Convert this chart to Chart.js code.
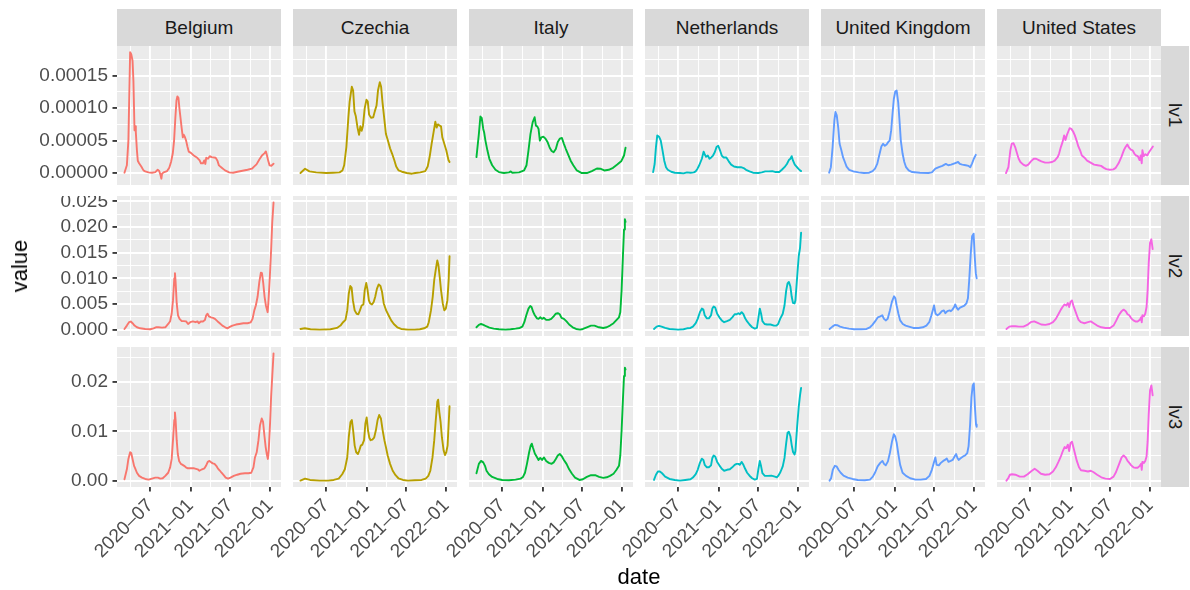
<!DOCTYPE html>
<html>
<head>
<meta charset="utf-8">
<script src="https://cdn.jsdelivr.net/npm/chart.js@4.4.1/dist/chart.umd.min.js"></script>
<style>
  html, body { margin: 0; padding: 0; background: #FFFFFF; }
  body { position: relative; width: 1190px; height: 590px; overflow: hidden;
         font-family: "Liberation Sans", Arial, sans-serif; }
  canvas { position: absolute; }
  .strip { position: absolute; background: #D9D9D9; color: #1A1A1A; font-size: 19px;
           display: flex; align-items: center; justify-content: center; white-space: nowrap; }
  .strip.right { writing-mode: vertical-rl; }
  .title { position: absolute; color: #000000; font-size: 22px; white-space: nowrap;
           transform: translate(-50%, -50%); line-height: 1; }
</style>
</head>
<body>
<script>
// ---- facets ----
const countries = ['Belgium', 'Czechia', 'Italy', 'Netherlands', 'United Kingdom', 'United States'];
const levels = ['lv1', 'lv2', 'lv3'];
const palette = ['#F8766D', '#B79F00', '#00BA38', '#00BFC4', '#619CFF', '#F564E3'];

// ---- axis breaks ----
const xMajorDates = ['2020-07-01', '2021-01-01', '2021-07-01', '2022-01-01'];
const xTickLabels = ['2020–07', '2021–01', '2021–07', '2022–01'];
const xMinorDates = ['2020-04-01', '2020-10-01', '2021-04-01', '2021-10-01'];

const yMajor1 = [0, 0.00005, 0.0001, 0.00015];
const yLabels1 = ['0.00000', '0.00005', '0.00010', '0.00015'];
const yMinor1 = [0.000025, 0.000075, 0.000125, 0.000175];
const yMajor2 = [0, 0.005, 0.01, 0.015, 0.02, 0.025];
const yLabels2 = ['0.000', '0.005', '0.010', '0.015', '0.020', '0.025'];
const yMinor2 = [0.0025, 0.0075, 0.0125, 0.0175, 0.0225];
const yMajor3 = [0, 0.01, 0.02];
const yLabels3 = ['0.00', '0.01', '0.02'];
const yMinor3 = [0.005, 0.015, 0.025];

// ---- series: [date, value] ----
const belgiumLv1 = [['2020-03-05',5e-7],['2020-03-16',1.2e-5],['2020-03-23',5.0e-5],['2020-03-31',1.86e-4],['2020-04-05',1.83e-4],['2020-04-11',1.73e-4],['2020-04-15',1.42e-4],['2020-04-20',6.6e-5],['2020-04-23',7.2e-5],['2020-04-26',6.3e-5],['2020-05-01',3.5e-5],['2020-05-05',1.9e-5],['2020-05-11',1.5e-5],['2020-05-21',1.0e-5],['2020-05-31',4.1e-6],['2020-06-08',2.6e-6],['2020-06-23',1.0e-6],['2020-07-09',5e-7],['2020-07-24',1.5e-6],['2020-08-04',5.1e-6],['2020-08-11',3.1e-6],['2020-08-16',-2.0e-6],['2020-08-21',-8.7e-6],['2020-08-24',-1.0e-6],['2020-08-31',1.0e-6],['2020-09-16',3.1e-6],['2020-09-26',8.2e-6],['2020-10-04',1.7e-5],['2020-10-12',3.0e-5],['2020-10-18',5.0e-5],['2020-10-24',8.6e-5],['2020-10-29',1.12e-4],['2020-11-02',1.18e-4],['2020-11-07',1.16e-4],['2020-11-11',1.01e-4],['2020-11-16',8.6e-5],['2020-11-21',7.1e-5],['2020-11-27',5.5e-5],['2020-12-01',5.9e-5],['2020-12-06',5.6e-5],['2020-12-12',5.0e-5],['2020-12-18',4.1e-5],['2020-12-24',3.3e-5],['2021-01-03',3.1e-5],['2021-01-16',2.7e-5],['2021-02-01',2.35e-5],['2021-02-12',1.94e-5],['2021-02-18',1.5e-5],['2021-02-27',1.5e-5],['2021-03-05',1.94e-5],['2021-03-10',1.4e-5],['2021-03-14',2.35e-5],['2021-03-22',2.2e-5],['2021-03-30',2.6e-5],['2021-04-08',2.46e-5],['2021-04-26',2.35e-5],['2021-05-04',1.94e-5],['2021-05-11',1.18e-5],['2021-05-24',8.2e-6],['2021-06-08',4.1e-6],['2021-06-27',1.0e-6],['2021-07-15',5e-7],['2021-08-04',2.0e-6],['2021-08-27',3.6e-6],['2021-09-19',5.1e-6],['2021-10-09',6.7e-6],['2021-10-20',1.02e-5],['2021-10-30',1.33e-5],['2021-11-12',2.1e-5],['2021-11-24',2.71e-5],['2021-12-06',3.07e-5],['2021-12-12',3.33e-5],['2021-12-17',2.71e-5],['2021-12-23',1.84e-5],['2021-12-29',1.18e-5],['2022-01-06',1.13e-5],['2022-01-16',1.43e-5]];
const czechiaLv1 = [['2020-03-05',0],['2020-03-26',6.7e-6],['2020-04-15',2.5e-6],['2020-05-16',1.0e-6],['2020-07-01',0],['2020-08-01',5e-7],['2020-08-31',1.0e-6],['2020-09-13',4e-6],['2020-09-21',1.2e-5],['2020-10-01',4.0e-5],['2020-10-10',8.5e-5],['2020-10-16',1.1e-4],['2020-10-26',1.33e-4],['2020-11-01',1.27e-4],['2020-11-07',9.5e-5],['2020-11-13',8.8e-5],['2020-11-21',7.0e-5],['2020-11-28',5.9e-5],['2020-12-04',7.2e-5],['2020-12-10',6.5e-5],['2020-12-16',7.3e-5],['2020-12-24',1.0e-4],['2021-01-01',1.13e-4],['2021-01-07',1.10e-4],['2021-01-13',9.0e-5],['2021-01-22',8.5e-5],['2021-02-01',8.6e-5],['2021-02-08',9.5e-5],['2021-02-16',1.04e-4],['2021-02-23',1.28e-4],['2021-03-03',1.40e-4],['2021-03-09',1.33e-4],['2021-03-15',1.10e-4],['2021-03-23',8.5e-5],['2021-03-31',6.0e-5],['2021-04-09',5.0e-5],['2021-04-19',3.8e-5],['2021-04-28',3.0e-5],['2021-05-08',2.0e-5],['2021-05-17',1.0e-5],['2021-05-28',4e-6],['2021-06-12',2e-6],['2021-07-05',0],['2021-07-28',-1e-6],['2021-08-12',0],['2021-09-04',1.0e-6],['2021-09-27',3e-6],['2021-10-08',1.0e-5],['2021-10-17',2.5e-5],['2021-10-26',4.5e-5],['2021-11-04',6.3e-5],['2021-11-12',7.9e-5],['2021-11-18',7.0e-5],['2021-11-24',7.5e-5],['2021-12-02',7.3e-5],['2021-12-08',7.2e-5],['2021-12-14',5.5e-5],['2021-12-23',4.5e-5],['2022-01-01',3.5e-5],['2022-01-11',2.0e-5],['2022-01-16',1.7e-5]];
const italyLv1 = [['2020-03-05',2.46e-5],['2020-03-16',6.0e-5],['2020-03-23',8.7e-5],['2020-03-29',8.5e-5],['2020-04-05',6.8e-5],['2020-04-09',6.3e-5],['2020-04-15',5.0e-5],['2020-04-24',3.5e-5],['2020-05-03',2.2e-5],['2020-05-16',1.2e-5],['2020-05-31',5e-6],['2020-06-16',1.5e-6],['2020-07-09',0],['2020-08-01',1e-6],['2020-08-09',2.5e-6],['2020-08-16',5e-7],['2020-09-16',1e-6],['2020-10-09',4e-6],['2020-10-20',1.2e-5],['2020-10-29',3.5e-5],['2020-11-07',6.0e-5],['2020-11-17',7.8e-5],['2020-11-26',8.6e-5],['2020-12-02',7.3e-5],['2020-12-08',7.2e-5],['2020-12-14',6.8e-5],['2020-12-20',5.0e-5],['2020-12-27',5.5e-5],['2021-01-05',5.6e-5],['2021-01-15',5.3e-5],['2021-01-24',4.8e-5],['2021-02-03',3.9e-5],['2021-02-12',3.4e-5],['2021-02-21',3.2e-5],['2021-03-03',3.7e-5],['2021-03-12',4.8e-5],['2021-03-21',5.3e-5],['2021-03-31',5.4e-5],['2021-04-09',4.5e-5],['2021-04-18',3.7e-5],['2021-04-29',2.8e-5],['2021-05-10',1.9e-5],['2021-05-22',1.2e-5],['2021-06-07',4e-6],['2021-06-30',0],['2021-07-23',0],['2021-08-15',3e-6],['2021-09-07',7e-6],['2021-09-22',6.7e-6],['2021-10-11',4e-6],['2021-10-31',5e-6],['2021-11-20',8e-6],['2021-12-09',1.3e-5],['2021-12-27',1.8e-5],['2022-01-09',2.7e-5],['2022-01-16',3.9e-5]];
const netherlandsLv1 = [['2020-03-08',1.5e-6],['2020-03-15',1.4e-5],['2020-03-21',4.0e-5],['2020-03-27',5.8e-5],['2020-04-04',5.6e-5],['2020-04-12',5.0e-5],['2020-04-20',3.5e-5],['2020-04-28',1.9e-5],['2020-05-06',9e-6],['2020-05-14',5e-6],['2020-05-30',2e-6],['2020-06-15',5e-7],['2020-07-09',0],['2020-07-25',-5e-7],['2020-08-10',1e-6],['2020-08-26',5e-7],['2020-09-10',1e-6],['2020-09-19',2.6e-6],['2020-09-27',6.7e-6],['2020-10-05',1.2e-5],['2020-10-17',2.2e-5],['2020-10-25',3.3e-5],['2020-10-30',2.9e-5],['2020-11-05',2.5e-5],['2020-11-13',2.7e-5],['2020-11-21',2.2e-5],['2020-11-29',2.4e-5],['2020-12-07',2.7e-5],['2020-12-15',3.2e-5],['2020-12-23',4.0e-5],['2020-12-31',4.2e-5],['2021-01-08',3.5e-5],['2021-01-16',2.7e-5],['2021-01-24',2.4e-5],['2021-02-06',2.4e-5],['2021-02-17',1.8e-5],['2021-02-28',1.3e-5],['2021-03-13',1.0e-5],['2021-03-29',9e-6],['2021-04-14',9e-6],['2021-04-26',7.7e-6],['2021-05-07',5e-6],['2021-05-23',2.6e-6],['2021-06-08',5e-7],['2021-07-02',0],['2021-07-18',1e-6],['2021-08-03',2.6e-6],['2021-08-19',2.6e-6],['2021-09-04',3e-6],['2021-09-20',1.5e-6],['2021-10-06',1.5e-6],['2021-10-18',5e-6],['2021-10-30',9e-6],['2021-11-10',1.4e-5],['2021-11-19',2.0e-5],['2021-11-26',2.2e-5],['2021-12-02',2.6e-5],['2021-12-08',1.9e-5],['2021-12-16',1.3e-5],['2021-12-24',1.0e-5],['2022-01-01',6.7e-6],['2022-01-09',4e-6],['2022-01-14',3e-6]];
const unitedKingdomLv1 = [['2020-03-08',5e-7],['2020-03-16',9e-6],['2020-03-24',4.0e-5],['2020-04-01',8.1e-5],['2020-04-06',9.4e-5],['2020-04-12',8.9e-5],['2020-04-19',6.9e-5],['2020-04-25',4.5e-5],['2020-05-03',3.5e-5],['2020-05-11',2.4e-5],['2020-05-19',1.7e-5],['2020-05-27',1.0e-5],['2020-06-08',5e-6],['2020-06-27',2.6e-6],['2020-07-21',1e-6],['2020-08-14',0],['2020-09-07',5e-7],['2020-09-23',3e-6],['2020-10-04',6.7e-6],['2020-10-14',1.4e-5],['2020-10-23',2.7e-5],['2020-11-02',4.1e-5],['2020-11-10',4.5e-5],['2020-11-18',4.2e-5],['2020-11-26',4.4e-5],['2020-12-04',4.8e-5],['2020-12-10',5.0e-5],['2020-12-17',6.6e-5],['2020-12-23',9.1e-5],['2020-12-29',1.14e-4],['2021-01-05',1.26e-4],['2021-01-11',1.27e-4],['2021-01-18',1.09e-4],['2021-01-24',8.1e-5],['2021-01-30',5.0e-5],['2021-02-07',3.0e-5],['2021-02-15',1.7e-5],['2021-02-23',9e-6],['2021-03-07',4e-6],['2021-03-23',1.5e-6],['2021-04-27',5e-7],['2021-06-05',0],['2021-06-21',1e-6],['2021-07-07',6.7e-6],['2021-07-23',9e-6],['2021-08-08',1.1e-5],['2021-08-24',1.4e-5],['2021-09-04',1.2e-5],['2021-09-17',1.3e-5],['2021-10-03',1.5e-5],['2021-10-19',1.7e-5],['2021-10-27',1.4e-5],['2021-11-07',1.3e-5],['2021-11-23',1.2e-5],['2021-12-06',1.1e-5],['2021-12-14',9e-6],['2021-12-22',1.5e-5],['2021-12-30',2.2e-5],['2022-01-08',2.8e-5]];
const unitedStatesLv1 = [['2020-03-12',0],['2020-03-23',9e-6],['2020-04-01',3.5e-5],['2020-04-07',4.5e-5],['2020-04-15',4.6e-5],['2020-04-23',4.0e-5],['2020-05-01',3.1e-5],['2020-05-09',2.2e-5],['2020-05-17',1.7e-5],['2020-05-30',1.3e-5],['2020-06-11',1.1e-5],['2020-06-22',1.3e-5],['2020-07-04',1.8e-5],['2020-07-17',2.2e-5],['2020-07-28',2.2e-5],['2020-08-09',2.0e-5],['2020-08-21',1.8e-5],['2020-09-07',1.6e-5],['2020-09-23',1.6e-5],['2020-10-09',1.7e-5],['2020-10-21',1.9e-5],['2020-11-04',2.5e-5],['2020-11-10',3.0e-5],['2020-11-18',4.0e-5],['2020-11-26',4.8e-5],['2020-12-03',5.8e-5],['2020-12-09',5.1e-5],['2020-12-15',5.8e-5],['2020-12-22',6.4e-5],['2020-12-28',6.9e-5],['2021-01-05',6.8e-5],['2021-01-13',6.4e-5],['2021-01-21',5.8e-5],['2021-01-29',5.0e-5],['2021-02-06',4.1e-5],['2021-02-14',3.5e-5],['2021-02-22',2.7e-5],['2021-03-05',2.4e-5],['2021-03-18',1.9e-5],['2021-04-03',1.6e-5],['2021-04-19',1.3e-5],['2021-05-05',1.2e-5],['2021-05-21',1.1e-5],['2021-06-03',8e-6],['2021-06-14',6e-6],['2021-06-30',5e-6],['2021-07-16',5.6e-6],['2021-07-27',8e-6],['2021-08-09',1.5e-5],['2021-08-22',2.5e-5],['2021-09-02',3.5e-5],['2021-09-10',4.0e-5],['2021-09-18',4.4e-5],['2021-09-26',3.9e-5],['2021-10-04',3.6e-5],['2021-10-12',3.5e-5],['2021-10-20',3.0e-5],['2021-10-28',2.7e-5],['2021-11-05',2.6e-5],['2021-11-13',2.0e-5],['2021-11-18',2.7e-5],['2021-11-23',1.5e-5],['2021-11-26',3.5e-5],['2021-12-02',2.6e-5],['2021-12-10',2.9e-5],['2021-12-18',2.7e-5],['2021-12-26',3.2e-5],['2022-01-03',3.6e-5],['2022-01-13',4.1e-5]];

const belgiumLv2 = [['2020-03-05',1.3e-4],['2020-03-16',7.9e-4],['2020-03-26',1.45e-3],['2020-04-03',1.58e-3],['2020-04-11',1.25e-3],['2020-04-20',7.9e-4],['2020-05-01',4.6e-4],['2020-05-16',2.6e-4],['2020-06-08',1.3e-4],['2020-07-01',7e-5],['2020-07-16',2.6e-4],['2020-07-27',4.6e-4],['2020-08-08',4.6e-4],['2020-08-24',4.0e-4],['2020-09-08',4.6e-4],['2020-09-21',1.1e-3],['2020-09-30',1.65e-3],['2020-10-07',3.1e-3],['2020-10-13',5.7e-3],['2020-10-19',1.0e-2],['2020-10-22',1.1e-2],['2020-10-25',9.3e-3],['2020-10-30',5.1e-3],['2020-11-05',2.8e-3],['2020-11-12',2.1e-3],['2020-11-22',1.65e-3],['2020-11-30',1.65e-3],['2020-12-12',1.6e-3],['2020-12-21',1.1e-3],['2020-12-31',1.45e-3],['2021-01-12',1.6e-3],['2021-01-24',1.45e-3],['2021-02-02',1.6e-3],['2021-02-08',1.25e-3],['2021-02-17',1.6e-3],['2021-02-27',1.6e-3],['2021-03-08',1.9e-3],['2021-03-14',2.8e-3],['2021-03-20',3.1e-3],['2021-03-26',2.6e-3],['2021-04-05',2.4e-3],['2021-04-14',2.3e-3],['2021-04-23',2.1e-3],['2021-05-04',1.65e-3],['2021-05-15',1.25e-3],['2021-05-27',7.9e-4],['2021-06-09',4.6e-4],['2021-06-19',2.6e-4],['2021-06-30',5.3e-4],['2021-07-12',7.9e-4],['2021-07-28',9.9e-4],['2021-08-12',1.1e-3],['2021-08-31',1.25e-3],['2021-09-19',1.25e-3],['2021-10-03',1.4e-3],['2021-10-12',2.1e-3],['2021-10-20',3.75e-3],['2021-10-27',4.7e-3],['2021-11-04',6.4e-3],['2021-11-12',9.3e-3],['2021-11-19',1.11e-2],['2021-11-24',1.1e-2],['2021-11-30',9.0e-3],['2021-12-06',6.4e-3],['2021-12-12',4.7e-3],['2021-12-20',3.4e-3],['2021-12-24',5.7e-3],['2021-12-30',1.03e-2],['2022-01-05',1.56e-2],['2022-01-10',2.09e-2],['2022-01-16',2.48e-2]];
const czechiaLv2 = [['2020-03-05',1.3e-4],['2020-03-25',2.6e-4],['2020-04-20',7e-5],['2020-06-01',0],['2020-07-20',7e-5],['2020-08-19',3.3e-4],['2020-09-04',7.9e-4],['2020-09-16',1.45e-3],['2020-09-27',1.9e-3],['2020-10-05',3.75e-3],['2020-10-12',7.0e-3],['2020-10-19',8.5e-3],['2020-10-25',8.2e-3],['2020-10-31',5.7e-3],['2020-11-08',3.75e-3],['2020-11-17',3.1e-3],['2020-11-25',3.0e-3],['2020-12-02',3.75e-3],['2020-12-10',4.7e-3],['2020-12-18',4.9e-3],['2020-12-24',7.7e-3],['2020-12-31',9.1e-3],['2021-01-06',7.7e-3],['2021-01-12',5.7e-3],['2021-01-18',5.1e-3],['2021-01-26',4.9e-3],['2021-02-03',5.4e-3],['2021-02-10',6.4e-3],['2021-02-18',8.0e-3],['2021-02-26',8.8e-3],['2021-03-06',8.5e-3],['2021-03-13',7.4e-3],['2021-03-21',5.1e-3],['2021-04-01',3.75e-3],['2021-04-12',2.8e-3],['2021-04-24',1.8e-3],['2021-05-06',1.1e-3],['2021-05-22',4.6e-4],['2021-06-09',1.3e-4],['2021-07-10',0],['2021-08-10',0],['2021-09-02',7e-5],['2021-09-22',2.6e-4],['2021-10-06',5.9e-4],['2021-10-13',1.45e-3],['2021-10-23',3.75e-3],['2021-10-31',6.4e-3],['2021-11-07',9.7e-3],['2021-11-15',1.2e-2],['2021-11-21',1.35e-2],['2021-11-26',1.26e-2],['2021-12-02',1.03e-2],['2021-12-08',7.7e-3],['2021-12-16',5.1e-3],['2021-12-23',3.75e-3],['2021-12-30',4.1e-3],['2022-01-06',5.7e-3],['2022-01-12',9.7e-3],['2022-01-16',1.43e-2]];
const italyLv2 = [['2020-03-05',4.6e-4],['2020-03-16',9.2e-4],['2020-03-26',1.1e-3],['2020-04-06',9.2e-4],['2020-04-18',6.6e-4],['2020-05-03',3.9e-4],['2020-05-23',2e-4],['2020-06-16',7e-5],['2020-07-16',0],['2020-08-08',7e-5],['2020-08-31',2e-4],['2020-09-19',3.3e-4],['2020-10-01',5.9e-4],['2020-10-10',1.45e-3],['2020-10-19',2.8e-3],['2020-10-29',4.1e-3],['2020-11-06',4.6e-3],['2020-11-12',4.4e-3],['2020-11-20',3.4e-3],['2020-11-27',2.8e-3],['2020-12-07',2.2e-3],['2020-12-14',2.1e-3],['2020-12-22',2.4e-3],['2020-12-30',2.1e-3],['2021-01-07',2.3e-3],['2021-01-18',1.9e-3],['2021-01-30',1.9e-3],['2021-02-10',2.1e-3],['2021-02-21',2.6e-3],['2021-03-03',3.1e-3],['2021-03-12',3.2e-3],['2021-03-21',3.0e-3],['2021-03-29',2.3e-3],['2021-04-09',2.1e-3],['2021-04-21',1.6e-3],['2021-05-03',1.0e-3],['2021-05-19',4.6e-4],['2021-06-04',1.3e-4],['2021-06-22',0],['2021-07-05',1.3e-4],['2021-07-23',4.6e-4],['2021-08-11',7.9e-4],['2021-08-27',7.9e-4],['2021-09-16',4.6e-4],['2021-10-06',3.3e-4],['2021-10-22',4.6e-4],['2021-11-06',7.9e-4],['2021-11-22',1.25e-3],['2021-12-04',1.8e-3],['2021-12-17',2.4e-3],['2021-12-23',3.4e-3],['2021-12-29',7.7e-3],['2022-01-04',1.43e-2],['2022-01-09',1.95e-2],['2022-01-13',2.15e-2],['2022-01-16',2.1e-2]];
const netherlandsLv2 = [['2020-03-12',1.3e-4],['2020-03-24',5.9e-4],['2020-04-04',7.2e-4],['2020-04-16',5.9e-4],['2020-05-02',3.3e-4],['2020-05-22',1.3e-4],['2020-07-01',0],['2020-07-25',7e-5],['2020-08-10',2.6e-4],['2020-08-26',3.3e-4],['2020-09-06',5.9e-4],['2020-09-19',1.25e-3],['2020-09-28',2.1e-3],['2020-10-08',3.4e-3],['2020-10-17',4.1e-3],['2020-10-24',3.9e-3],['2020-10-30',2.8e-3],['2020-11-09',2.2e-3],['2020-11-18',2.2e-3],['2020-11-28',2.8e-3],['2020-12-04',4.1e-3],['2020-12-10',4.5e-3],['2020-12-17',4.3e-3],['2020-12-26',3.1e-3],['2021-01-05',2.4e-3],['2021-01-16',1.8e-3],['2021-01-27',1.45e-3],['2021-02-09',1.65e-3],['2021-02-22',1.9e-3],['2021-03-05',2.4e-3],['2021-03-16',3.0e-3],['2021-03-25',3.0e-3],['2021-04-02',3.2e-3],['2021-04-09',3.0e-3],['2021-04-17',3.4e-3],['2021-04-25',3.0e-3],['2021-05-03',2.2e-3],['2021-05-12',1.6e-3],['2021-05-23',1.0e-3],['2021-06-04',4.6e-4],['2021-06-16',2e-4],['2021-06-26',3.3e-4],['2021-07-02',2.1e-3],['2021-07-09',4.1e-3],['2021-07-15',3.1e-3],['2021-07-21',1.65e-3],['2021-07-31',1.1e-3],['2021-08-11',1.0e-3],['2021-08-27',1.0e-3],['2021-09-12',7.9e-4],['2021-09-23',7.9e-4],['2021-10-01',1.1e-3],['2021-10-10',2.1e-3],['2021-10-22',3.1e-3],['2021-10-30',4.7e-3],['2021-11-07',7.7e-3],['2021-11-13',9.0e-3],['2021-11-19',9.3e-3],['2021-11-26',8.4e-3],['2021-12-02',6.4e-3],['2021-12-08',5.2e-3],['2021-12-15',5.1e-3],['2021-12-19',5.7e-3],['2021-12-27',1.03e-2],['2022-01-03',1.43e-2],['2022-01-09',1.59e-2],['2022-01-14',1.89e-2]];
const unitedKingdomLv2 = [['2020-03-10',1.3e-4],['2020-03-23',5.9e-4],['2020-04-03',9.2e-4],['2020-04-14',8.6e-4],['2020-04-27',5.9e-4],['2020-05-13',3.9e-4],['2020-06-07',2e-4],['2020-07-01',7e-5],['2020-08-02',7e-5],['2020-08-26',1.3e-4],['2020-09-11',4.6e-4],['2020-09-22',9.2e-4],['2020-10-05',1.65e-3],['2020-10-17',2.4e-3],['2020-10-28',2.6e-3],['2020-11-06',2.8e-3],['2020-11-14',2.1e-3],['2020-11-22',1.8e-3],['2020-12-01',2.1e-3],['2020-12-11',3.75e-3],['2020-12-20',5.4e-3],['2020-12-30',6.5e-3],['2021-01-05',6.1e-3],['2021-01-11',4.7e-3],['2021-01-19',3.1e-3],['2021-01-27',1.8e-3],['2021-02-08',1.1e-3],['2021-02-21',7.9e-4],['2021-03-08',5.9e-4],['2021-03-28',3.3e-4],['2021-04-21',3.3e-4],['2021-05-11',4.6e-4],['2021-05-27',7.9e-4],['2021-06-09',1.45e-3],['2021-06-19',2.8e-3],['2021-06-25',3.75e-3],['2021-07-01',4.7e-3],['2021-07-08',3.1e-3],['2021-07-17',2.8e-3],['2021-07-27',3.1e-3],['2021-08-06',3.6e-3],['2021-08-15',3.75e-3],['2021-08-22',3.2e-3],['2021-08-31',3.6e-3],['2021-09-10',3.75e-3],['2021-09-16',3.6e-3],['2021-09-23',3.9e-3],['2021-10-01',4.4e-3],['2021-10-06',4.9e-3],['2021-10-12',4.3e-3],['2021-10-19',3.9e-3],['2021-10-28',4.3e-3],['2021-11-07',4.5e-3],['2021-11-17',4.7e-3],['2021-11-26',5.1e-3],['2021-12-03',6.1e-3],['2021-12-09',9.7e-3],['2021-12-16',1.49e-2],['2021-12-22',1.82e-2],['2021-12-29',1.87e-2],['2022-01-03',1.43e-2],['2022-01-08',1.1e-2],['2022-01-12',1.0e-2]];
const unitedStatesLv2 = [['2020-03-14',1.3e-4],['2020-03-27',5.9e-4],['2020-04-08',6.6e-4],['2020-04-24',6.6e-4],['2020-05-10',5.9e-4],['2020-05-31',5.9e-4],['2020-06-17',9.2e-4],['2020-07-03',1.45e-3],['2020-07-19',1.6e-3],['2020-08-04',1.3e-3],['2020-08-20',1.0e-3],['2020-09-08',9.2e-4],['2020-09-27',1.1e-3],['2020-10-13',1.45e-3],['2020-10-26',2.1e-3],['2020-11-08',3.1e-3],['2020-11-18',3.9e-3],['2020-11-27',4.5e-3],['2020-12-05',4.9e-3],['2020-12-13',4.7e-3],['2020-12-20',5.2e-3],['2020-12-26',4.4e-3],['2021-01-01',5.4e-3],['2021-01-08',5.7e-3],['2021-01-14',4.7e-3],['2021-01-22',3.75e-3],['2021-01-30',2.8e-3],['2021-02-07',1.9e-3],['2021-02-18',1.45e-3],['2021-03-06',1.25e-3],['2021-03-22',1.45e-3],['2021-04-04',1.6e-3],['2021-04-17',1.25e-3],['2021-05-03',7.9e-4],['2021-05-22',4.6e-4],['2021-06-10',3.3e-4],['2021-07-01',3.3e-4],['2021-07-17',7.9e-4],['2021-07-28',1.65e-3],['2021-08-10',2.8e-3],['2021-08-23',3.6e-3],['2021-09-01',3.9e-3],['2021-09-11',3.6e-3],['2021-09-19',3.0e-3],['2021-09-27',2.8e-3],['2021-10-06',2.2e-3],['2021-10-16',1.8e-3],['2021-10-25',1.6e-3],['2021-11-04',1.6e-3],['2021-11-14',1.9e-3],['2021-11-20',2.4e-3],['2021-11-23',1.45e-3],['2021-11-26',2.8e-3],['2021-12-03',2.6e-3],['2021-12-09',3.1e-3],['2021-12-15',4.4e-3],['2021-12-20',7.7e-3],['2021-12-25',1.3e-2],['2021-12-31',1.69e-2],['2022-01-06',1.76e-2],['2022-01-12',1.57e-2]];

const belgiumLv3 = [['2020-03-05',2.7e-4],['2020-03-16',2.3e-3],['2020-03-23',4.4e-3],['2020-03-31',5.75e-3],['2020-04-05',5.6e-3],['2020-04-11',4.4e-3],['2020-04-18',3.0e-3],['2020-04-23',2.5e-3],['2020-05-01',1.6e-3],['2020-05-11',9.6e-4],['2020-05-24',6.2e-4],['2020-06-08',3.4e-4],['2020-06-23',2e-4],['2020-07-09',4.1e-4],['2020-07-24',6.2e-4],['2020-08-05',6.2e-4],['2020-08-16',4.1e-4],['2020-08-27',4.8e-4],['2020-09-08',9.6e-4],['2020-09-21',1.6e-3],['2020-09-30',2.7e-3],['2020-10-07',4.4e-3],['2020-10-13',8.2e-3],['2020-10-19',1.23e-2],['2020-10-22',1.38e-2],['2020-10-25',1.23e-2],['2020-10-30',8.2e-3],['2020-11-04',5.4e-3],['2020-11-10',4.0e-3],['2020-11-18',3.4e-3],['2020-11-26',3.2e-3],['2020-12-03',3.0e-3],['2020-12-11',2.7e-3],['2020-12-20',2.5e-3],['2021-01-03',2.5e-3],['2021-01-18',2.5e-3],['2021-02-03',2.3e-3],['2021-02-11',2.0e-3],['2021-02-23',2.3e-3],['2021-03-06',2.5e-3],['2021-03-13',3.0e-3],['2021-03-21',3.8e-3],['2021-03-29',4.0e-3],['2021-04-06',3.7e-3],['2021-04-13',3.5e-3],['2021-04-21',3.4e-3],['2021-04-29',3.0e-3],['2021-05-06',2.5e-3],['2021-05-14',2.1e-3],['2021-05-23',1.6e-3],['2021-06-02',1.1e-3],['2021-06-11',6.2e-4],['2021-06-22',4.1e-4],['2021-07-03',6.2e-4],['2021-07-18',9.6e-4],['2021-08-03',1.2e-3],['2021-08-18',1.4e-3],['2021-09-07',1.5e-3],['2021-09-23',1.5e-3],['2021-10-06',1.6e-3],['2021-10-16',2.7e-3],['2021-10-23',4.7e-3],['2021-10-31',5.75e-3],['2021-11-08',8.2e-3],['2021-11-15',1.12e-2],['2021-11-23',1.26e-2],['2021-11-29',1.19e-2],['2021-12-05',9.2e-3],['2021-12-11',6.8e-3],['2021-12-16',5.4e-3],['2021-12-21',4.4e-3],['2021-12-25',6.1e-3],['2021-12-31',1.16e-2],['2022-01-05',1.71e-2],['2022-01-11',2.19e-2],['2022-01-16',2.58e-2]];
const czechiaLv3 = [['2020-03-05',0],['2020-03-26',4.1e-4],['2020-04-18',1.4e-4],['2020-06-01',0],['2020-07-10',0],['2020-08-04',1.4e-4],['2020-08-27',4.1e-4],['2020-09-12',1.3e-3],['2020-09-24',2.3e-3],['2020-10-05',4.7e-3],['2020-10-12',8.8e-3],['2020-10-20',1.19e-2],['2020-10-26',1.23e-2],['2020-11-01',1.02e-2],['2020-11-08',7.1e-3],['2020-11-15',5.75e-3],['2020-11-23',5.4e-3],['2020-11-29',6.1e-3],['2020-12-06',7.1e-3],['2020-12-13',7.3e-3],['2020-12-21',8.2e-3],['2020-12-27',1.16e-2],['2021-01-02',1.28e-2],['2021-01-08',1.02e-2],['2021-01-14',8.7e-3],['2021-01-20',8.2e-3],['2021-01-28',8.3e-3],['2021-02-05',8.7e-3],['2021-02-13',1.02e-2],['2021-02-21',1.23e-2],['2021-02-28',1.33e-2],['2021-03-08',1.26e-2],['2021-03-16',1.02e-2],['2021-03-24',8.2e-3],['2021-03-31',6.8e-3],['2021-04-08',5.1e-3],['2021-04-19',3.4e-3],['2021-05-01',2.0e-3],['2021-05-14',1.1e-3],['2021-05-27',4.8e-4],['2021-06-17',1.4e-4],['2021-07-10',0],['2021-08-10',7e-5],['2021-09-10',1.4e-4],['2021-09-29',4.1e-4],['2021-10-11',9.6e-4],['2021-10-20',2.0e-3],['2021-10-30',4.7e-3],['2021-11-07',8.2e-3],['2021-11-14',1.23e-2],['2021-11-21',1.6e-2],['2021-11-25',1.64e-2],['2021-11-30',1.4e-2],['2021-12-06',1.19e-2],['2021-12-12',8.8e-3],['2021-12-20',6.1e-3],['2021-12-26',5.2e-3],['2022-01-01',5.75e-3],['2022-01-07',7.1e-3],['2022-01-12',1.16e-2],['2022-01-16',1.51e-2]];
const italyLv3 = [['2020-03-05',1.5e-3],['2020-03-16',3.4e-3],['2020-03-26',4.0e-3],['2020-04-05',3.7e-3],['2020-04-13',3.0e-3],['2020-04-20',2.0e-3],['2020-05-01',1.3e-3],['2020-05-16',7.5e-4],['2020-06-08',3.4e-4],['2020-07-01',1.4e-4],['2020-08-01',7e-5],['2020-08-31',2e-4],['2020-09-23',4.1e-4],['2020-10-04',7.5e-4],['2020-10-13',1.6e-3],['2020-10-22',3.4e-3],['2020-11-01',5.75e-3],['2020-11-08',7.1e-3],['2020-11-13',7.5e-3],['2020-11-19',6.6e-3],['2020-11-27',5.5e-3],['2020-12-05',4.9e-3],['2020-12-14',4.2e-3],['2020-12-22',4.6e-3],['2020-12-30',4.2e-3],['2021-01-08',4.7e-3],['2021-01-18',4.0e-3],['2021-01-30',3.6e-3],['2021-02-12',3.4e-3],['2021-02-21',3.7e-3],['2021-03-03',4.4e-3],['2021-03-12',5.1e-3],['2021-03-21',5.4e-3],['2021-03-31',4.9e-3],['2021-04-09',4.2e-3],['2021-04-21',3.4e-3],['2021-05-03',2.3e-3],['2021-05-16',1.4e-3],['2021-05-30',6.2e-4],['2021-06-19',1.4e-4],['2021-07-05',2.7e-4],['2021-07-23',7.5e-4],['2021-08-11',1.1e-3],['2021-08-30',1.1e-3],['2021-09-17',7.5e-4],['2021-10-06',5.5e-4],['2021-10-22',6.8e-4],['2021-11-06',9.6e-4],['2021-11-22',1.4e-3],['2021-12-04',2.1e-3],['2021-12-17',3.0e-3],['2021-12-23',5.1e-3],['2021-12-29',1.02e-2],['2022-01-04',1.64e-2],['2022-01-09',2.12e-2],['2022-01-13',2.29e-2],['2022-01-16',2.25e-2]];
const netherlandsLv3 = [['2020-03-12',1.4e-4],['2020-03-21',1.2e-3],['2020-03-30',1.85e-3],['2020-04-08',1.85e-3],['2020-04-18',1.5e-3],['2020-05-02',8.2e-4],['2020-05-22',3.4e-4],['2020-06-15',1.4e-4],['2020-07-09',0],['2020-08-02',1.4e-4],['2020-08-26',2.7e-4],['2020-09-06',6.2e-4],['2020-09-19',1.3e-3],['2020-09-28',2.2e-3],['2020-10-08',3.6e-3],['2020-10-17',4.45e-3],['2020-10-24',4.2e-3],['2020-10-30',3.2e-3],['2020-11-09',2.7e-3],['2020-11-18',2.7e-3],['2020-11-28',3.1e-3],['2020-12-04',4.6e-3],['2020-12-10',5.1e-3],['2020-12-17',4.9e-3],['2020-12-26',3.8e-3],['2021-01-05',3.1e-3],['2021-01-16',2.4e-3],['2021-01-27',2.0e-3],['2021-02-09',2.2e-3],['2021-02-22',2.3e-3],['2021-03-05',2.7e-3],['2021-03-16',3.2e-3],['2021-03-25',3.4e-3],['2021-04-02',3.4e-3],['2021-04-09',3.2e-3],['2021-04-17',3.8e-3],['2021-04-25',3.2e-3],['2021-05-03',2.4e-3],['2021-05-12',1.6e-3],['2021-05-23',1.0e-3],['2021-06-04',4.8e-4],['2021-06-16',2e-4],['2021-06-26',3.4e-4],['2021-07-02',2.2e-3],['2021-07-09',4.0e-3],['2021-07-15',2.9e-3],['2021-07-21',1.5e-3],['2021-07-31',1.0e-3],['2021-08-15',9.6e-4],['2021-08-31',1.0e-3],['2021-09-16',8.2e-4],['2021-09-25',6.8e-4],['2021-10-01',9.6e-4],['2021-10-11',1.7e-3],['2021-10-22',2.9e-3],['2021-10-30',4.6e-3],['2021-11-07',7.7e-3],['2021-11-13',9.7e-3],['2021-11-19',9.9e-3],['2021-11-26',9.0e-3],['2021-12-02',7.2e-3],['2021-12-08',5.8e-3],['2021-12-15',5.3e-3],['2021-12-19',6.0e-3],['2021-12-27',1.11e-2],['2022-01-03',1.49e-2],['2022-01-09',1.73e-2],['2022-01-14',1.88e-2]];
const unitedKingdomLv3 = [['2020-03-10',0],['2020-03-17',4.8e-4],['2020-03-25',2.2e-3],['2020-04-03',3.0e-3],['2020-04-11',2.9e-3],['2020-04-20',2.2e-3],['2020-04-30',1.6e-3],['2020-05-13',1.0e-3],['2020-06-01',6.2e-4],['2020-06-23',3.4e-4],['2020-07-17',1.4e-4],['2020-08-18',7e-5],['2020-09-11',2e-4],['2020-09-24',8.2e-4],['2020-10-05',1.7e-3],['2020-10-16',2.9e-3],['2020-10-28',3.6e-3],['2020-11-07',4.0e-3],['2020-11-14',3.4e-3],['2020-11-22',3.1e-3],['2020-12-02',3.9e-3],['2020-12-11',5.6e-3],['2020-12-21',8.0e-3],['2020-12-29',9.4e-3],['2021-01-04',9.0e-3],['2021-01-11',7.7e-3],['2021-01-19',5.3e-3],['2021-01-27',3.2e-3],['2021-02-07',1.6e-3],['2021-02-23',9.6e-4],['2021-03-14',4.8e-4],['2021-04-07',2e-4],['2021-05-01',2e-4],['2021-05-25',3.4e-4],['2021-06-10',9.6e-4],['2021-06-21',2.2e-3],['2021-07-01',3.8e-3],['2021-07-07',4.7e-3],['2021-07-13',3.2e-3],['2021-07-23',3.1e-3],['2021-08-01',3.6e-3],['2021-08-12',4.0e-3],['2021-08-20',4.2e-3],['2021-08-28',4.5e-3],['2021-09-05',3.8e-3],['2021-09-15',4.0e-3],['2021-09-24',4.2e-3],['2021-10-03',4.9e-3],['2021-10-10',5.4e-3],['2021-10-16',4.6e-3],['2021-10-22',4.2e-3],['2021-11-01',4.6e-3],['2021-11-11',4.9e-3],['2021-11-20',5.1e-3],['2021-11-30',5.6e-3],['2021-12-06',7.0e-3],['2021-12-13',1.14e-2],['2021-12-19',1.69e-2],['2021-12-25',1.93e-2],['2021-12-30',1.97e-2],['2022-01-04',1.49e-2],['2022-01-09',1.14e-2],['2022-01-12',1.09e-2]];
const unitedStatesLv3 = [['2020-03-14',0],['2020-03-22',4.8e-4],['2020-03-30',1.2e-3],['2020-04-09',1.3e-3],['2020-04-24',1.2e-3],['2020-05-14',8.2e-4],['2020-06-02',8.2e-4],['2020-06-19',1.3e-3],['2020-07-04',1.85e-3],['2020-07-21',2.4e-3],['2020-08-03',2.0e-3],['2020-08-19',1.4e-3],['2020-09-07',1.2e-3],['2020-09-27',1.3e-3],['2020-10-13',1.85e-3],['2020-10-26',2.7e-3],['2020-11-08',3.9e-3],['2020-11-18',4.9e-3],['2020-11-27',6.0e-3],['2020-12-05',6.8e-3],['2020-12-13',6.6e-3],['2020-12-20',7.3e-3],['2020-12-26',6.0e-3],['2021-01-01',7.6e-3],['2021-01-08',7.9e-3],['2021-01-14',6.8e-3],['2021-01-22',5.4e-3],['2021-01-30',4.0e-3],['2021-02-09',2.7e-3],['2021-02-18',2.1e-3],['2021-03-06',2.0e-3],['2021-03-22',1.85e-3],['2021-04-04',2.0e-3],['2021-04-17',1.7e-3],['2021-05-03',1.2e-3],['2021-05-22',6.8e-4],['2021-06-10',4.1e-4],['2021-07-01',3.4e-4],['2021-07-17',8.2e-4],['2021-07-28',1.7e-3],['2021-08-10',3.2e-3],['2021-08-23',4.7e-3],['2021-09-01',5.1e-3],['2021-09-11',4.7e-3],['2021-09-19',4.0e-3],['2021-09-27',3.6e-3],['2021-10-06',3.1e-3],['2021-10-16',2.7e-3],['2021-10-25',2.6e-3],['2021-11-04',2.6e-3],['2021-11-14',3.0e-3],['2021-11-20',3.4e-3],['2021-11-23',2.2e-3],['2021-11-26',3.8e-3],['2021-12-03',3.6e-3],['2021-12-09',4.0e-3],['2021-12-15',4.9e-3],['2021-12-20',8.0e-3],['2021-12-25',1.35e-2],['2021-12-31',1.83e-2],['2022-01-06',1.93e-2],['2022-01-12',1.73e-2]];

// ---- facet grid (rows = level, columns = country) ----
const facetSeries = [
  [belgiumLv1, czechiaLv1, italyLv1, netherlandsLv1, unitedKingdomLv1, unitedStatesLv1],
  [belgiumLv2, czechiaLv2, italyLv2, netherlandsLv2, unitedKingdomLv2, unitedStatesLv2],
  [belgiumLv3, czechiaLv3, italyLv3, netherlandsLv3, unitedKingdomLv3, unitedStatesLv3]
];
const yBreaks = [
  { major: yMajor1, labels: yLabels1, minor: yMinor1 },
  { major: yMajor2, labels: yLabels2, minor: yMinor2 },
  { major: yMajor3, labels: yLabels3, minor: yMinor3 }
];

// ---- layout (px) ----
const colLeft = [117, 293, 469, 645, 821, 997];
const panelW = 164;
const rowTop = [46, 196, 347];
const panelH = [139, 140, 140];
const stripTop = 9, stripH = 37;
const rightStripLeft = 1161, rightStripW = 28;

const FONT = 'Liberation Sans';
const DAY = 86400000;
const toDay = s => Date.UTC(+s.slice(0, 4), +s.slice(5, 7) - 1, +s.slice(8, 10)) / DAY;

// shared date scale, expanded by 5% on each side
let xLo = Infinity, xHi = -Infinity;
facetSeries.flat().forEach(s => s.forEach(([d]) => {
  const t = toDay(d); if (t < xLo) xLo = t; if (t > xHi) xHi = t;
}));
const xPad = (xHi - xLo) * 0.05;

// one value scale per row, expanded by 5%
const yRange = facetSeries.map(row => {
  let lo = Infinity, hi = -Infinity;
  row.forEach(s => s.forEach(([, v]) => { if (v < lo) lo = v; if (v > hi) hi = v; }));
  const p = (hi - lo) * 0.05;
  return [lo - p, hi + p];
});

const xTicks = [
  ...xMinorDates.map(d => ({ value: toDay(d), major: false, text: '' })),
  ...xMajorDates.map((d, i) => ({ value: toDay(d), major: true, text: xTickLabels[i] }))
].sort((a, b) => a.value - b.value);

function yTicksFor(r) {
  const b = yBreaks[r];
  return [
    ...b.minor.map(v => ({ value: v, major: false, text: '' })),
    ...b.major.map((v, i) => ({ value: v, major: true, text: b.labels[i] }))
  ].sort((a, c) => a.value - c.value);
}

const isMajor = ctx => !!(ctx.tick && ctx.tick.major);

function gridOpts(showTicks) {
  return {
    color: '#FFFFFF',
    lineWidth: ctx => isMajor(ctx) ? 1.9 : 0.95,
    drawTicks: showTicks,
    tickLength: 4.5,
    tickWidth: 1.8,
    tickColor: ctx => isMajor(ctx) ? '#333333' : 'rgba(0,0,0,0)'
  };
}

// grey panel background
const panelBg = {
  id: 'panelBg',
  beforeDraw(chart) {
    const { ctx, chartArea: a } = chart;
    ctx.save();
    ctx.fillStyle = '#EBEBEB';
    ctx.fillRect(a.left, a.top, a.right - a.left, a.bottom - a.top);
    ctx.restore();
  }
};

facetSeries.forEach((row, r) => {
  const yT = yTicksFor(r);
  row.forEach((series, c) => {
    const padL = c === 0 ? colLeft[0] : 40;
    const padB = r === 2 ? 90 : 0;
    const w = panelW + padL, h = panelH[r] + padB;
    const cv = document.createElement('canvas');
    cv.width = w; cv.height = h;
    cv.style.width = w + 'px'; cv.style.height = h + 'px';
    cv.style.left = (colLeft[c] - padL) + 'px';
    cv.style.top = rowTop[r] + 'px';
    document.body.appendChild(cv);

    new Chart(cv, {
      type: 'line',
      data: {
        datasets: [{
          data: series.map(([d, v]) => ({ x: toDay(d), y: v })),
          borderColor: palette[c],
          borderWidth: 1.9,
          pointRadius: 0,
          tension: 0,
          fill: false,
          borderJoinStyle: 'round',
          borderCapStyle: 'round'
        }]
      },
      options: {
        responsive: false,
        maintainAspectRatio: false,
        animation: false,
        devicePixelRatio: 1,
        events: [],
        layout: { padding: 0, autoPadding: false },
        plugins: { legend: { display: false }, tooltip: { enabled: false } },
        scales: {
          x: {
            type: 'linear',
            min: xLo - xPad,
            max: xHi + xPad,
            afterBuildTicks: s => { s.ticks = xTicks.map(t => ({ ...t })); },
            afterFit: s => { s.height = padB; s.paddingLeft = 0; s.paddingRight = 0; },
            border: { display: false },
            grid: gridOpts(r === 2),
            ticks: {
              display: r === 2,
              autoSkip: false,
              minRotation: 45,
              maxRotation: 45,
              padding: 3,
              color: '#4D4D4D',
              font: { family: FONT, size: 19 },
              callback: (v, i, ticks) => ticks[i].text || ''
            }
          },
          y: {
            type: 'linear',
            min: yRange[r][0],
            max: yRange[r][1],
            afterBuildTicks: s => { s.ticks = yT.map(t => ({ ...t })); },
            afterFit: s => { s.width = padL; s.paddingTop = 0; s.paddingBottom = 0; },
            border: { display: false },
            grid: gridOpts(c === 0),
            ticks: {
              display: c === 0,
              autoSkip: false,
              padding: 4.5,
              color: '#4D4D4D',
              font: { family: FONT, size: 19 },
              callback: (v, i, ticks) => ticks[i].text || ''
            }
          }
        }
      },
      plugins: [panelBg]
    });
  });
});

// facet strips
countries.forEach((name, c) => {
  const d = document.createElement('div');
  d.className = 'strip';
  Object.assign(d.style, { left: colLeft[c] + 'px', top: stripTop + 'px', width: panelW + 'px', height: stripH + 'px' });
  d.textContent = name;
  document.body.appendChild(d);
});
levels.forEach((lv, r) => {
  const d = document.createElement('div');
  d.className = 'strip right';
  Object.assign(d.style, { left: rightStripLeft + 'px', top: rowTop[r] + 'px', width: rightStripW + 'px', height: panelH[r] + 'px' });
  d.textContent = lv;
  document.body.appendChild(d);
});

// axis titles
const xTitle = document.createElement('div');
xTitle.className = 'title';
Object.assign(xTitle.style, { left: '639px', top: '577px' });
xTitle.textContent = 'date';
document.body.appendChild(xTitle);

const yTitle = document.createElement('div');
yTitle.className = 'title';
Object.assign(yTitle.style, { left: '20px', top: '266px', transform: 'translate(-50%, -50%) rotate(-90deg)' });
yTitle.textContent = 'value';
document.body.appendChild(yTitle);
</script>
</body>
</html>
